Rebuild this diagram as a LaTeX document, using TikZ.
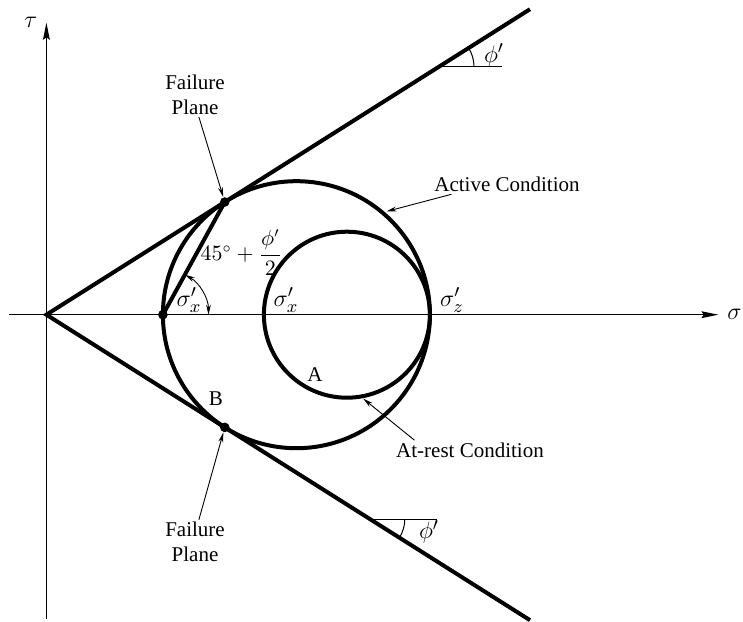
\documentclass[tikz,border=0pt]{standalone}
\usepackage{fontspec}
\setmainfont{Liberation Serif}
\usepackage{amsmath}
\usetikzlibrary{arrows.meta}

\begin{document}
\begin{tikzpicture}[
        x=0.5pt, y=0.5pt,
        axis/.style={line width=0.7pt, -{Stealth[length=8.5pt, width=3.4pt, inset=1.2pt]}},
        envelope/.style={line width=2pt},
        mohr/.style={line width=2pt},
        leader/.style={line width=0.45pt, -{Stealth[length=5pt, width=2.4pt]}},
        anglearr/.style={line width=0.45pt, {Stealth[length=5pt, width=2.4pt]}-{Stealth[length=5pt, width=2.4pt]}},
        thinline/.style={line width=0.5pt},
        dot/.style={circle, fill=black, inner sep=0pt, minimum size=4.8pt},
        lbl/.style={font=\fontsize{10.5}{12.2}\selectfont, inner sep=1pt, align=center},
        mathlbl/.style={font=\fontsize{12.5}{14}\selectfont, inner sep=1pt}
    ]
        \useasboundingbox (-46.4,-306.3) rectangle (696.6,314.7);

        % Axes
        \coordinate (O) at (0,0);
        \coordinate (sigL) at (-37,0);
        \coordinate (sigR) at (672,0);
        \coordinate (tauB) at (0,-304);
        \coordinate (tauT) at (0,292);
        \draw[axis] (sigL) -- (sigR);
        \draw[axis] (tauB) -- (tauT);
        \node[mathlbl] (sigma) at (688,0) {$\sigma$};
        \node[mathlbl] (tau) at (-15.5,292) {$\tau$};

        % Failure envelopes
        \coordinate (envU) at (32.28:572);
        \coordinate (envD) at (-32.28:572);
        \draw[envelope] (envU) -- (O) -- (envD);

        % Mohr circles: active and at-rest
        \coordinate (C1) at (250,0);
        \coordinate (C2) at (300.5,0);
        \draw[mohr] (C1) circle[radius=133.5];
        \draw[mohr] (C2) circle[radius=83];

        % Pole and failure points
        \node[dot] (sx) at (116.5,0) {};
        \node[dot] (fpU) at (32.28:211) {};
        \node[dot] (fpD) at (-32.28:211) {};
        \draw[envelope] (sx.center) -- (fpU.center);
        \draw[anglearr] ([shift={(0:45.6)}]sx.center) arc[start angle=0, end angle=61.2, radius=45.6];

        % Labels on the circles
        \node[lbl] (ang) at (195,62) {$45^\circ + \dfrac{\phi'}{2}$};
        \node[mathlbl] (sxA) at (142.6,15) {$\sigma_x'$};
        \node[mathlbl] (sxB) at (239.6,15) {$\sigma_x'$};
        \node[mathlbl] (sz) at (405.6,15) {$\sigma_z'$};
        \node[lbl] (ptA) at (268.6,-60.3) {A};
        \node[lbl] (ptB) at (169.6,-84.3) {B};

        % Leaders
        \node[lbl] (failU) at (148.6,219.7) {Failure\\Plane};
        \node[lbl] (failD) at (148.6,-227) {Failure\\Plane};
        \draw[leader] (failU.-80) -- (fpU);
        \draw[leader] (failD.80) -- (fpD);
        \node[lbl] (active) at (460.6,130.2) {Active Condition};
        \coordinate (actTip) at ([shift={(250,0)}]48.9:137);
        \draw[leader] (active.190) -- (actTip);
        \node[lbl] (atrest) at (423.6,-135.3) {At-rest Condition};
        \coordinate (restTip) at ([shift={(300.5,0)}]-79:85.5);
        \draw[leader] (atrest.170) -- (restTip);

        % Friction angle marks
        \coordinate (phiU) at (392.6,248);
        \draw[thinline] (phiU) -- ++(62.7,0);
        \draw[thinline] ([shift={(0:35)}]phiU) arc[start angle=0, end angle=32.28, radius=35];
        \node[mathlbl] (phiUlbl) at (447.6,259.7) {$\phi'$};
        \coordinate (phiD) at (323.4,-204.3);
        \draw[thinline] (phiD) -- ++(67,0);
        \draw[thinline] ([shift={(0:35)}]phiD) arc[start angle=0, end angle=-32.28, radius=35];
        \node[mathlbl] (phiDlbl) at (382.6,-217) {$\phi'$};
    \end{tikzpicture}
\end{document}
